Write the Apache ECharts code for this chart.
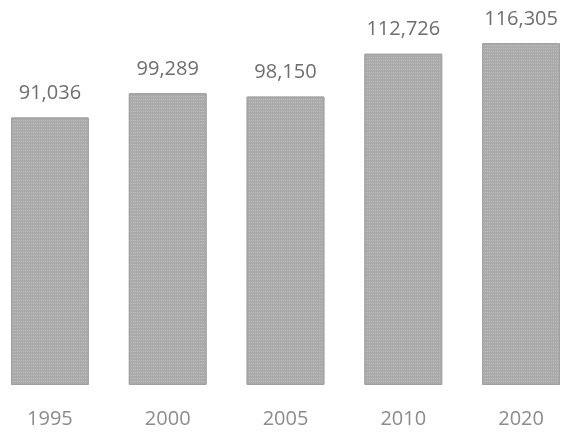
<!DOCTYPE html>
<html><head><meta charset="utf-8">
<script src="https://cdn.jsdelivr.net/npm/echarts@6/dist/echarts.min.js"></script>
<style>html,body{margin:0;padding:0;background:#fff;overflow:hidden;width:565px;height:436px}#c{width:589px;height:436px;margin-left:-9px}</style>
</head><body><div id="c"></div>
<script>
const categories = ['1995', '2000', '2005', '2010', '2020'];
const values = [91036, 99289, 98150, 112726, 116305];

const chart = echarts.init(document.getElementById('c'), null, {renderer: 'canvas'});
chart.setOption({
  animation: false,
  backgroundColor: '#ffffff',
  grid: {left: 0, right: 0, top: 3, bottom: 51},
  xAxis: {
    type: 'category', data: categories,
    axisLine: {show: false}, axisTick: {show: false},
    axisLabel: {margin: 24, fontSize: 20, color: '#8c8c8c', fontFamily: 'Open Sans'}
  },
  yAxis: {type: 'value', min: 0, max: 130000, show: false, splitLine: {show: false}},
  series: [{
    type: 'bar', data: values, barCategoryGap: '34%',
    itemStyle: {
      color: '#ababab', borderColor: '#a0a0a0', borderWidth: 1,
      decal: {symbol: 'rect', symbolSize: 1, color: 'rgba(255,255,255,0.22)', dashArrayX: [1, 1], dashArrayY: [1, 2], rotation: 0}
    },
    label: {
      show: true, position: 'top', distance: 14, fontSize: 20, color: '#6e6e6e',
      fontFamily: 'Open Sans',
      formatter: p => p.value.toLocaleString('en-US')
    }
  }]
});
</script></body></html>
